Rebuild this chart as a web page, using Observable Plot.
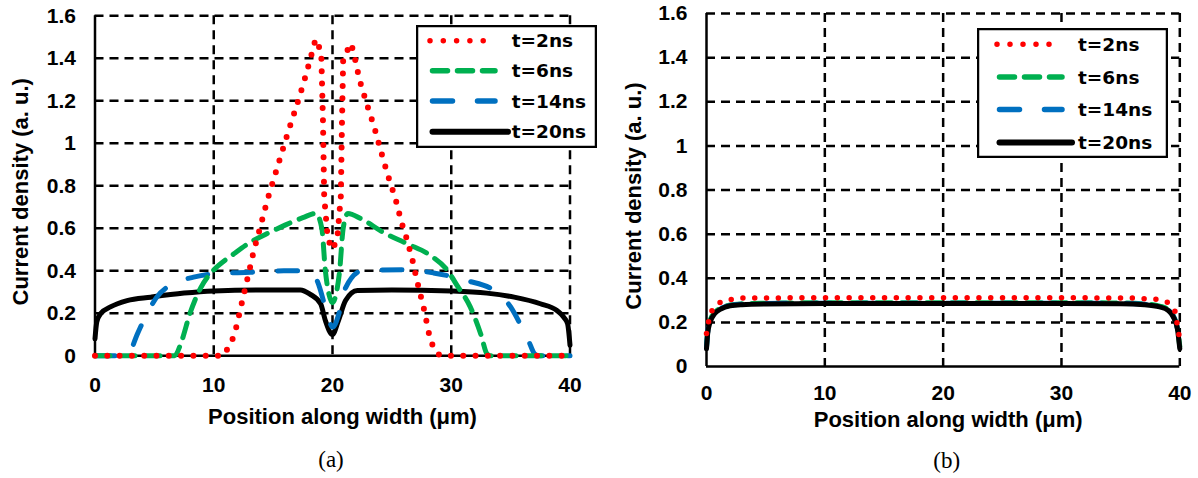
<!DOCTYPE html>
<html><head><meta charset="utf-8">
<script src="https://cdn.jsdelivr.net/npm/d3@7"></script>
<script src="https://cdn.jsdelivr.net/npm/@observablehq/plot@0.6"></script>
<style>
html,body{margin:0;padding:0;background:#fff;}
#fig{position:relative;width:1198px;height:478px;overflow:hidden;background:#fff;}
.panel{position:absolute;top:0;}
.legend{position:absolute;}
.caption{position:absolute;font-family:"Liberation Serif","Times New Roman",serif;font-size:23px;transform:translate(-50%,-50%);white-space:nowrap;}
</style></head><body><div id="fig"></div>
<script>
// ---------- data ----------
const xTicks = [0, 10, 20, 30, 40];
const xTickLabels = ["0", "10", "20", "30", "40"];
const yTicks = [0, 0.2, 0.4, 0.6, 0.8, 1, 1.2, 1.4, 1.6];
const yTickLabels = ["0", "0.2", "0.4", "0.6", "0.8", "1", "1.2", "1.4", "1.6"];
const seriesNames = ["t=2ns", "t=6ns", "t=14ns", "t=20ns"];
const xTitle = "Position along width (μm)";
const yTitle = "Current density (a. u.)";
const captions = ["(a)", "(b)"];

// panel (a): [position, current density]
const a_t2 = [[0,0],[10.8,0],[11.35,0.05],[11.75,0.10],[12.0,0.16],[12.45,0.27],[12.95,0.39],[13.4,0.50],[13.94,0.61],[14.5,0.73],[15.1,0.84],[15.7,0.95],[16.3,1.06],[16.94,1.17],[17.6,1.29],[18.1,1.39],[18.57,1.49],[19.05,1.43],[19.2,1.1],[19.3,0.75],[19.6,0.55],[20,0.5],[20.4,0.55],[20.7,0.75],[20.8,1.1],[20.9,1.4],[21.57,1.47],[21.85,1.41],[22.27,1.30],[22.86,1.19],[23.5,1.08],[24.04,0.97],[24.66,0.85],[25.3,0.74],[25.8,0.63],[26.2,0.56],[26.7,0.46],[27.13,0.35],[27.7,0.22],[28.25,0.07],[28.8,0.01],[29.2,0],[40,0]];
const a_t6 = [[0,0],[6.7,0],[7.3,0.07],[8.0,0.2],[8.9,0.32],[9.6,0.38],[10.3,0.42],[11.7,0.48],[13.1,0.535],[14.5,0.575],[16.0,0.615],[17.5,0.65],[18.6,0.67],[19.1,0.6],[19.4,0.4],[19.7,0.29],[20,0.25],[20.3,0.29],[20.6,0.4],[20.9,0.6],[21.3,0.67],[22.4,0.645],[24.3,0.58],[26.3,0.527],[28.25,0.472],[29.7,0.40],[30.5,0.33],[31.6,0.23],[32.5,0.10],[33.0,0.01],[33.3,0],[40,0]];
const a_t14 = [[0,0],[2.6,0],[3.0,0.025],[3.55,0.10],[4.4,0.2],[5.2,0.276],[6.6,0.34],[8.3,0.37],[10,0.386],[13.1,0.393],[15.9,0.40],[17.9,0.40],[18.7,0.354],[19.55,0.2],[20,0.135],[20.7,0.23],[21.1,0.32],[22.5,0.40],[26,0.405],[28.5,0.39],[29.66,0.378],[31.3,0.354],[33.6,0.307],[35,0.23],[35.8,0.15],[36.5,0.072],[37,0.01],[37.3,0],[40,0]];
const a_t20 = [[0,0.08],[0.15,0.16],[0.5,0.2],[1.3,0.23],[2.7,0.26],[4.7,0.276],[7.5,0.295],[10,0.305],[14.5,0.31],[17.3,0.31],[18.1,0.29],[19,0.245],[19.4,0.166],[20,0.10],[20.5,0.166],[21.1,0.26],[22.1,0.307],[25,0.31],[30,0.305],[33,0.295],[35.3,0.276],[37.5,0.245],[38.9,0.213],[39.5,0.18],[39.8,0.15],[40,0.05]];

// panel (b)
const b_t2 = [[0,0.15],[0.3,0.24],[0.8,0.28],[1.5,0.30],[3,0.31],[10,0.312],[20,0.312],[30,0.312],[36,0.31],[38,0.305],[39,0.29],[39.6,0.25],[40,0.12]];
const b_t6 = [[0,0.09],[0.1,0.16],[0.3,0.21],[0.7,0.245],[1.2,0.265],[2,0.279],[3,0.284],[5,0.287],[10,0.289],[20,0.289],[30,0.289],[35,0.288],[37,0.284],[38.3,0.274],[39,0.259],[39.5,0.224],[39.8,0.174],[40,0.09]];
const b_t14 = [[0,0.085],[0.1,0.155],[0.3,0.205],[0.7,0.242],[1.2,0.262],[2,0.277],[3,0.282],[5,0.285],[10,0.287],[20,0.287],[30,0.287],[35,0.286],[37,0.282],[38.3,0.272],[39,0.257],[39.5,0.222],[39.8,0.172],[40,0.085]];
const b_t20 = [[0,0.08],[0.1,0.15],[0.3,0.2],[0.7,0.24],[1.2,0.26],[2,0.275],[3,0.28],[5,0.283],[10,0.285],[20,0.285],[30,0.285],[35,0.284],[37,0.28],[38.3,0.27],[39,0.255],[39.5,0.22],[39.8,0.17],[40,0.08]];

// ---------- styles ----------
const SANS = '"Liberation Sans", Arial, sans-serif';
const lineStyle = [
  {stroke: "#FF0000", strokeWidth: 6, strokeDasharray: "0,12.3", strokeLinecap: "round", curve: "linear"},
  {stroke: "#00B050", strokeWidth: 5, strokeDasharray: "15,10", strokeLinecap: "round", curve: "monotone-x"},
  {stroke: "#0070C0", strokeWidth: 5, strokeDasharray: "20,25", strokeLinecap: "round", curve: "monotone-x"},
  {stroke: "#000000", strokeWidth: 5, strokeLinecap: "round", curve: "monotone-x"}
];
const gridStyle = {stroke: "#000", strokeOpacity: 1, strokeWidth: 2.5, strokeDasharray: "9,6"};

function makePanel(cfg) {
  const lines = cfg.order.map(i => Plot.line(cfg.series[i], {x: d => d[0], y: d => d[1], ...lineStyle[i], ...(cfg.override[i] || {})}));
  return Plot.plot({
    width: 599, height: 430,
    marginLeft: cfg.ml, marginRight: cfg.mr, marginTop: cfg.mt, marginBottom: cfg.mb,
    style: {fontFamily: SANS, fontWeight: "bold", color: "#000", background: "transparent", overflow: "visible"},
    x: {domain: [0, 40]},
    y: {domain: [0, 1.6]},
    marks: [
      Plot.gridX(xTicks.slice(1), gridStyle),
      Plot.gridY(yTicks.slice(1), gridStyle),
      Plot.ruleX([0], {stroke: "#000", strokeWidth: 2.5}),
      Plot.ruleY([0], {stroke: "#000", strokeWidth: 2.5}),
      ...lines,
      Plot.axisX(xTicks, {tickSize: 0, tickPadding: cfg.xPad, fontSize: 21, tickFormat: d => xTickLabels[xTicks.indexOf(d)], label: null}),
      Plot.axisY(yTicks, {tickSize: 0, tickPadding: cfg.yPad, fontSize: 21, tickFormat: d => yTickLabels[yTicks.indexOf(d)], label: null}),
      Plot.text([xTitle], {text: d => d, frameAnchor: "bottom", dy: cfg.xTitleDy, dx: cfg.xTitleDx, lineAnchor: "middle", fontSize: 22, fontWeight: "bold"}),
      Plot.text([yTitle], {text: d => d, frameAnchor: "left", dx: cfg.yTitleDx, dy: cfg.yTitleDy, rotate: -90, lineAnchor: "middle", textAnchor: "middle", fontSize: 22, fontWeight: "bold"})
    ]
  });
}

const fig = document.getElementById("fig");

const pa = makePanel({
  series: [a_t2, a_t6, a_t14, a_t20], order: [3, 2, 1, 0], override: {},
  ml: 94.5, mr: 29.5, mt: 15.3, mb: 74.7, xPad: 21, yPad: 19,
  xTitleDy: 61, xTitleDx: 10, yTitleDx: -74, yTitleDy: 6
});
pa.classList.add("panel"); pa.style.left = "0px";
fig.appendChild(pa);

const pb = makePanel({
  series: [b_t2, b_t6, b_t14, b_t20], order: [1, 2, 3, 0], override: {0: {strokeWidth: 5.5, strokeDasharray: "0,11.8"}},
  ml: 107, mr: 18.7, mt: 13, mb: 64, xPad: 19, yPad: 19,
  xTitleDy: 53, xTitleDx: 5, yTitleDx: -73, yTitleDy: 6
});
pb.classList.add("panel"); pb.style.left = "599px";
fig.appendChild(pb);

// ---------- legends ----------
function makeLegend(cfg) {
  const svg = d3.create("svg").attr("class", "legend")
    .attr("width", cfg.w).attr("height", cfg.h)
    .style("left", cfg.left + "px").style("top", cfg.top + "px");
  svg.append("rect").attr("x", 1).attr("y", 1).attr("width", cfg.w - 2).attr("height", cfg.h - 2)
    .attr("fill", "#fff").attr("stroke", "#000").attr("stroke-width", 2.5);
  const legendDash = ["0," + cfg.dot, "15,10", "20,25", null];
  seriesNames.forEach((name, i) => {
    const y = cfg.rows[i];
    const st = lineStyle[i];
    const x1 = i === 3 ? cfg.s0 + cfg.blackLen : (i === 0 ? cfg.s0 + cfg.dot * 5 : cfg.s0 + 65);
    const ln = svg.append("line").attr("x1", cfg.s0 + (i === 0 ? 0 : 2.5)).attr("x2", x1)
      .attr("y1", y).attr("y2", y)
      .attr("stroke", st.stroke).attr("stroke-width", i === 3 ? 6 : 5.5)
      .attr("stroke-linecap", "round");
    if (legendDash[i]) ln.attr("stroke-dasharray", legendDash[i]);
    svg.append("text").attr("x", cfg.tx).attr("y", y).attr("dy", "0.36em")
      .attr("font-family", '"DejaVu Sans", Verdana, sans-serif').attr("font-weight", "bold")
      .attr("font-size", cfg.fs).attr("fill", "#000").text(name);
  });
  fig.appendChild(svg.node());
}
makeLegend({left: 416, top: 25, w: 181, h: 123, rows: [15.7, 45.7, 76, 106.7], s0: 14, dot: 13.3, blackLen: 78, tx: 95.7, fs: 18.5});
makeLegend({left: 977, top: 27.7, w: 191, h: 130, rows: [16.3, 49, 81.6, 114.6], s0: 20, dot: 13, blackLen: 75, tx: 101, fs: 18.5});

// ---------- captions ----------
[[331, 460], [946.7, 461]].forEach((p, i) => {
  const d = document.createElement("div");
  d.className = "caption";
  d.style.left = p[0] + "px"; d.style.top = p[1] + "px";
  d.textContent = captions[i];
  fig.appendChild(d);
});
</script>
</body></html>
